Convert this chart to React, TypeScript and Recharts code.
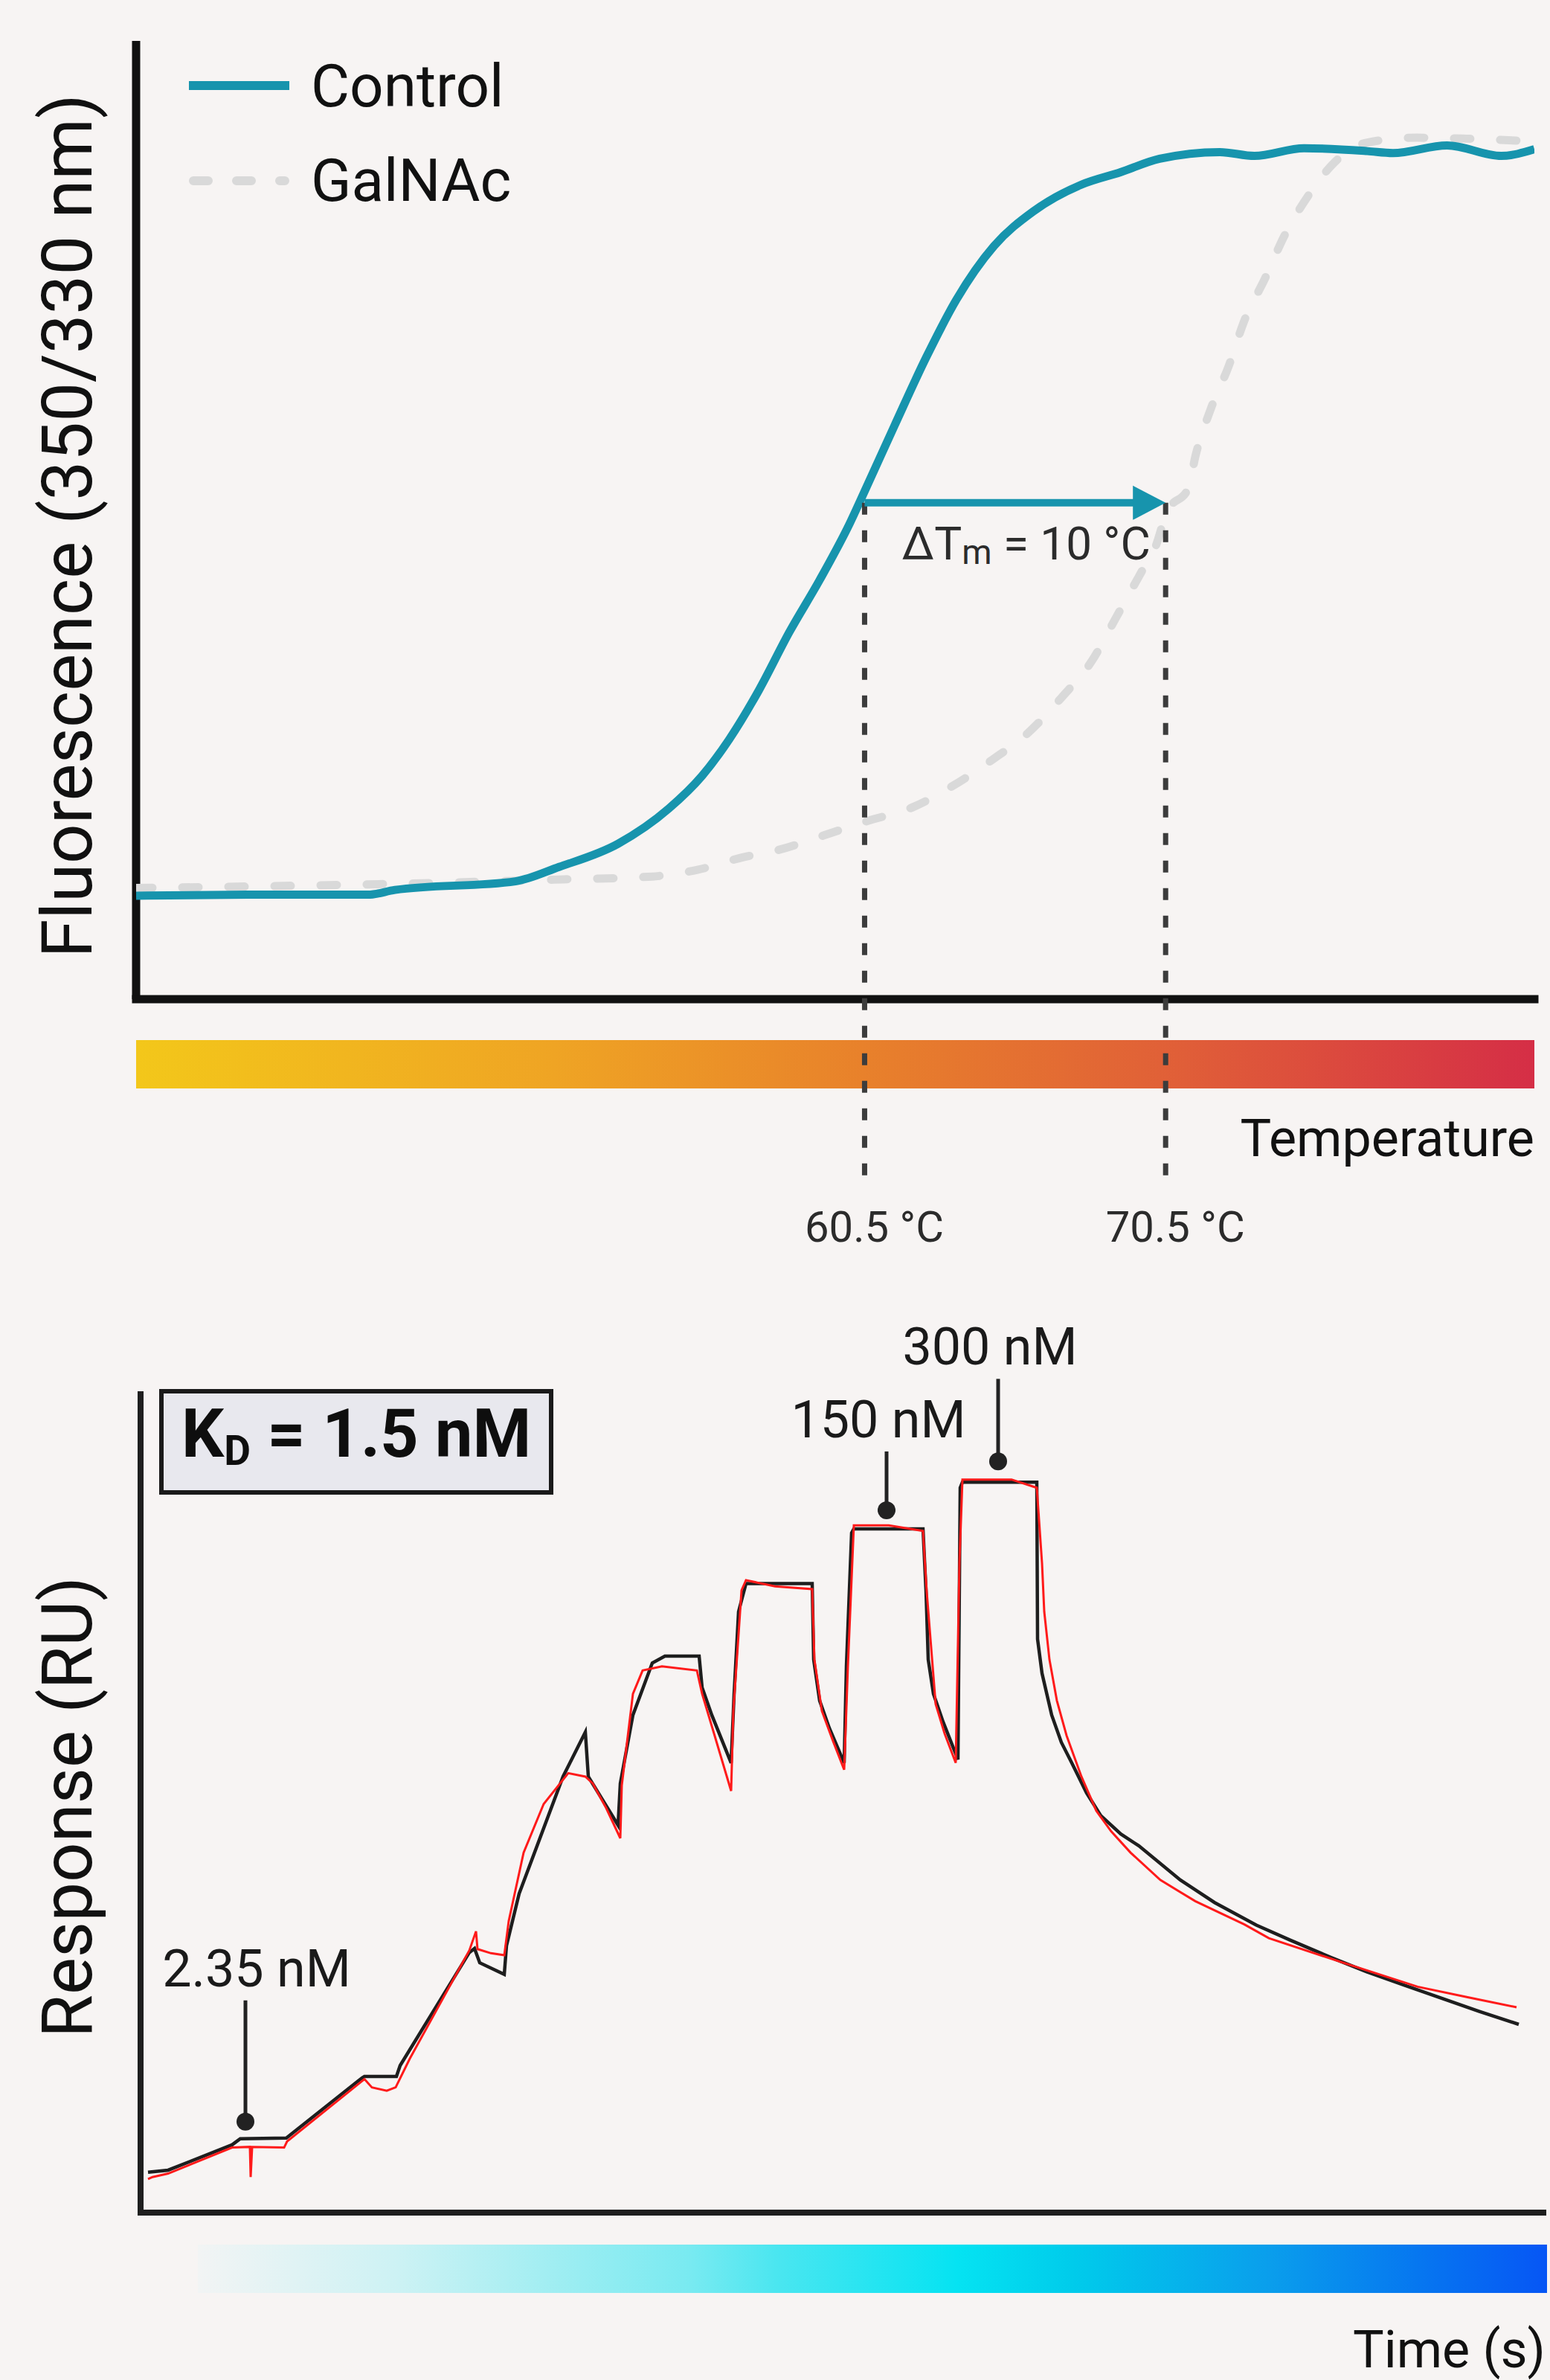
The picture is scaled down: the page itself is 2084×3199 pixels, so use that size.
import React from "react";
import {
  LineChart,
  Line,
  XAxis,
  YAxis,
  ReferenceLine,
  ReferenceDot,
  ReferenceArea,
} from "recharts";

const FONT = "Roboto, 'Noto Sans', sans-serif";
const BG = "#F7F4F3";
const TEAL = "#1794AD";
const GALNAC_GREY = "#D9D9D9";
const INK = "#111111";
const FIT_BLACK = "#1E1E1E";
const DATA_RED = "#FF1A1A";

// ---- thermal unfolding: temperature (°C) vs 350/330 ratio, normalised 0-100
const controlTemp = [36.3, 40.0, 44.0, 44.9, 48.9, 50.35, 52.3, 54.0, 55.1, 56.0, 57.0, 58.0, 59.0, 60.0, 60.5, 61.5, 62.55, 63.55, 64.8, 66.1, 67.7, 69.0, 70.3, 72.3, 73.45, 75.1, 77.2, 78.05, 79.85, 81.65, 82.75];
const controlRatio = [10.8, 10.9, 10.9, 11.4, 12.3, 13.8, 16.2, 19.9, 23.3, 27.1, 32.3, 38.3, 43.7, 49.6, 53.0, 59.9, 67.0, 73.0, 78.6, 82.2, 85.0, 86.3, 87.7, 88.4, 88.0, 88.8, 88.5, 88.3, 89.1, 88.0, 88.7];

const galnacTemp = [36.3, 45.8, 50.5, 53.45, 54.95, 56.45, 57.55, 59.15, 60.5, 62.15, 63.45, 64.75, 65.9, 67.05, 68.05, 68.85, 69.7, 70.15, 70.55, 71.25, 71.5, 72.0, 72.6, 73.1, 73.8, 74.45, 75.25, 76.1, 77.2, 78.85, 80.5, 82.75];
const galnacRatio = [11.6, 12.1, 12.5, 12.8, 13.5, 14.8, 15.5, 17.1, 18.5, 20.1, 22.3, 25.0, 27.7, 31.5, 35.3, 39.8, 44.6, 47.1, 50.9, 53.3, 56.8, 61.6, 66.1, 70.7, 75.2, 79.7, 83.9, 87.3, 89.4, 89.9, 89.8, 89.5];

const tmValues = [60.5, 70.5];
const tmLabels = ["60.5 °C", "70.5 °C"];
const TM_LEVEL = 51.8; // ratio where the shift arrow sits
const TEMP_DOMAIN = [36.3, 82.75];
const RATIO_DOMAIN = [0, 100];

// ---- SPR single-cycle kinetics: time (s) vs response (RU)
const fitTime = [10, 37, 123, 134, 196, 298, 301, 344, 349, 442, 449, 456, 489, 492, 509, 568, 598, 602, 642, 645, 662, 688, 705, 751, 755, 768, 794, 798, 804, 814, 903, 905, 913, 926, 946, 949, 956, 959, 1052, 1056, 1059, 1066, 1079, 1099, 1102, 1105, 1205, 1206, 1212, 1225, 1238, 1252, 1272, 1291, 1318, 1342, 1398, 1444, 1500, 1546, 1600, 1648, 1700, 1750, 1800, 1853];
const fitResp = [5.9, 6.2, 9.9, 10.8, 10.9, 19.7, 19.9, 19.9, 21.5, 38.0, 38.6, 36.5, 34.8, 39.0, 46.6, 63.7, 70.2, 63.7, 56.6, 62.7, 72.7, 80.3, 81.3, 81.3, 76.7, 72.7, 65.7, 75.8, 87.8, 91.9, 91.9, 80.8, 74.8, 70.8, 65.7, 79.8, 99.3, 99.9, 99.9, 90.9, 80.8, 75.8, 71.7, 66.2, 105.9, 106.7, 106.7, 83.8, 78.8, 72.7, 68.7, 65.7, 61.3, 58.0, 55.3, 53.6, 48.6, 45.3, 42.0, 39.8, 37.3, 35.2, 33.2, 31.3, 29.4, 27.5];

const dataTime = [10, 16, 37, 123, 147, 148, 150, 193, 197, 301, 311, 331, 343, 362, 442, 451, 453, 471, 489, 495, 515, 542, 575, 598, 608, 626, 645, 647, 662, 675, 701, 748, 755, 771, 794, 797, 808, 814, 853, 903, 906, 916, 931, 946, 951, 959, 1006, 1052, 1057, 1069, 1081, 1096, 1101, 1105, 1171, 1205, 1212, 1215, 1222, 1232, 1245, 1265, 1285, 1305, 1331, 1371, 1418, 1484, 1517, 1617, 1717, 1783, 1850];
const dataResp = [4.9, 5.2, 5.7, 9.5, 9.6, 5.2, 9.6, 9.5, 10.4, 19.5, 18.3, 17.8, 18.3, 22.5, 38.3, 41.1, 38.5, 37.9, 37.6, 42.6, 52.6, 59.7, 64.2, 63.7, 62.7, 59.1, 54.7, 62.4, 75.8, 79.2, 79.8, 79.2, 75.8, 70.0, 61.6, 73.3, 90.9, 92.4, 91.5, 91.1, 80.8, 73.3, 68.9, 64.7, 79.8, 100.4, 100.4, 99.6, 90.7, 74.3, 70.0, 65.7, 95.0, 107.1, 107.1, 105.9, 94.9, 87.8, 80.8, 74.8, 69.7, 63.7, 58.7, 55.7, 52.6, 48.6, 45.5, 42.1, 40.1, 36.5, 33.0, 31.5, 30.0];

const concLabels = ["2.35 nM", "150 nM", "300 nM"];
const concTime = [141, 1003, 1153];
const concResp = [10.9, 99.9, 106.7];
const TIME_DOMAIN = [0, 1886];
const RESP_DOMAIN = [0, 120];

// annotation pin layout (px): gap above plateau, stem length, label shift
const pinGap = [22, 25, 28];
const pinStem = [163, 79, 111];
const pinDx = [15, -11, -11];

const control = controlTemp.map((t, i) => ({ t, v: controlRatio[i] }));
const galnac = galnacTemp.map((t, i) => ({ t, v: galnacRatio[i] }));
const fit = fitTime.map((t, i) => ({ t, v: fitResp[i] }));
const measured = dataTime.map((t, i) => ({ t, v: dataResp[i] }));

function MeltChart() {
  return (
    <LineChart
      width={2084}
      height={1750}
      margin={{ top: 55, right: 21, bottom: 407, left: 183 }}
      style={{ display: "block" }}
    >
      <XAxis dataKey="t" type="number" domain={TEMP_DOMAIN} allowDataOverflow hide />
      <YAxis type="number" domain={RATIO_DOMAIN} allowDataOverflow hide />
      {/* axes drawn as heavy lines */}
      <ReferenceLine
        segment={[
          { x: TEMP_DOMAIN[0], y: RATIO_DOMAIN[0] },
          { x: TEMP_DOMAIN[0], y: RATIO_DOMAIN[1] },
        ]}
        stroke={INK}
        strokeWidth={11}
        ifOverflow="visible"
      />
      <ReferenceLine
        segment={[
          { x: TEMP_DOMAIN[0], y: RATIO_DOMAIN[0] },
          { x: TEMP_DOMAIN[1], y: RATIO_DOMAIN[0] },
        ]}
        stroke={INK}
        strokeWidth={11}
        strokeLinecap="square"
        ifOverflow="visible"
      />
      {/* temperature ramp bar under the axis */}
      <ReferenceArea
        x1={TEMP_DOMAIN[0]}
        x2={TEMP_DOMAIN[1]}
        y1={-4.27}
        y2={-9.32}
        fill="url(#tempGrad)"
        fillOpacity={1}
        stroke="none"
        ifOverflow="visible"
      />
      <Line
        data={galnac}
        dataKey="v"
        type="monotone"
        stroke={GALNAC_GREY}
        strokeWidth={11}
        strokeDasharray="22 40"
        strokeLinecap="round"
        dot={false}
        isAnimationActive={false}
      />
      <Line
        data={control}
        dataKey="v"
        type="monotone"
        stroke={TEAL}
        strokeWidth={11}
        strokeLinejoin="round"
        dot={false}
        isAnimationActive={false}
      />
      {tmValues.map((tm) => (
        <ReferenceLine
          key={"tm" + tm}
          segment={[
            { x: tm, y: TM_LEVEL },
            { x: tm, y: -19.6 },
          ]}
          stroke="#3C3C3C"
          strokeWidth={7}
          strokeDasharray="16 21"
          ifOverflow="visible"
        />
      ))}
      {tmValues.map((tm, i) => (
        <ReferenceDot
          key={"lab" + tm}
          x={tm}
          y={-19.6}
          ifOverflow="visible"
          shape={(p: any) => (
            <text
              x={p.cx + 13}
              y={p.cy + 74}
              textAnchor="middle"
              fontSize={58}
              fontFamily={FONT}
              fill="#2B2B2B"
            >
              {tmLabels[i]}
            </text>
          )}
        />
      ))}
      <ReferenceLine
        segment={[
          { x: tmValues[0], y: TM_LEVEL },
          { x: tmValues[1] - 0.9, y: TM_LEVEL },
        ]}
        stroke={TEAL}
        strokeWidth={10}
        ifOverflow="visible"
      />
      <ReferenceDot
        x={tmValues[1]}
        y={TM_LEVEL}
        ifOverflow="visible"
        shape={(p: any) => (
          <polygon
            points={`${p.cx},${p.cy} ${p.cx - 44},${p.cy - 23} ${p.cx - 44},${p.cy + 23}`}
            fill={TEAL}
          />
        )}
      />
      <ReferenceDot
        x={tmValues[0]}
        y={TM_LEVEL}
        ifOverflow="visible"
        shape={(p: any) => (
          <text x={p.cx + 50} y={p.cy + 76} fontSize={62} fontFamily={FONT} fill="#2B2B2B">
            ΔT
            <tspan fontSize={46} dy={6}>
              m
            </tspan>
            <tspan dy={-6}>{" = 10 °C"}</tspan>
          </text>
        )}
      />
    </LineChart>
  );
}

function KineticsChart() {
  return (
    <LineChart
      width={2084}
      height={1449}
      margin={{ top: 120, right: 9, bottom: 225, left: 189 }}
      style={{ display: "block" }}
    >
      <XAxis dataKey="t" type="number" domain={TIME_DOMAIN} allowDataOverflow hide />
      <YAxis type="number" domain={RESP_DOMAIN} allowDataOverflow hide />
      <ReferenceLine
        segment={[
          { x: TIME_DOMAIN[0], y: RESP_DOMAIN[0] },
          { x: TIME_DOMAIN[0], y: RESP_DOMAIN[1] },
        ]}
        stroke={FIT_BLACK}
        strokeWidth={8}
        ifOverflow="visible"
      />
      <ReferenceLine
        segment={[
          { x: TIME_DOMAIN[0], y: RESP_DOMAIN[0] },
          { x: TIME_DOMAIN[1], y: RESP_DOMAIN[0] },
        ]}
        stroke={FIT_BLACK}
        strokeWidth={8}
        strokeLinecap="square"
        ifOverflow="visible"
      />
      {/* time ramp bar */}
      <ReferenceArea
        x1={77}
        x2={1891}
        y1={-4.67}
        y2={-11.74}
        fill="url(#timeGrad)"
        fillOpacity={1}
        stroke="none"
        ifOverflow="visible"
      />
      <Line
        data={fit}
        dataKey="v"
        type="linear"
        stroke={FIT_BLACK}
        strokeWidth={4.5}
        dot={false}
        isAnimationActive={false}
      />
      <Line
        data={measured}
        dataKey="v"
        type="linear"
        stroke={DATA_RED}
        strokeWidth={3}
        dot={false}
        isAnimationActive={false}
      />
      {concLabels.map((lab, i) => (
        <ReferenceDot
          key={lab}
          x={concTime[i]}
          y={concResp[i]}
          ifOverflow="visible"
          shape={(p: any) => {
            const cy = p.cy - pinGap[i];
            return (
              <g>
                <line x1={p.cx} x2={p.cx} y1={cy} y2={cy - pinStem[i]} stroke="#222" strokeWidth={5} />
                <circle cx={p.cx} cy={cy} r={12} fill="#222" />
                <text
                  x={p.cx + pinDx[i]}
                  y={cy - pinStem[i] - 19}
                  textAnchor="middle"
                  fontSize={70}
                  fontFamily={FONT}
                  fill="#1A1A1A"
                >
                  {lab}
                </text>
              </g>
            );
          }}
        />
      ))}
    </LineChart>
  );
}

export default function App() {
  return (
    <div style={{ position: "relative", width: 2084, height: 3199, background: BG, overflow: "hidden" }}>
      <style>{"body{margin:0;}"}</style>
      <MeltChart />
      <KineticsChart />
      <svg
        width={2084}
        height={3199}
        style={{ position: "absolute", left: 0, top: 0, pointerEvents: "none" }}
        fontFamily={FONT}
      >
        <defs>
          <linearGradient id="tempGrad" x1="0" y1="0" x2="1" y2="0">
            <stop offset="0" stopColor="#F3C71A" />
            <stop offset="0.3" stopColor="#EFA424" />
            <stop offset="0.52" stopColor="#E8812B" />
            <stop offset="0.75" stopColor="#E05E38" />
            <stop offset="1" stopColor="#D52E46" />
          </linearGradient>
          <linearGradient id="timeGrad" x1="0" y1="0" x2="1" y2="0">
            <stop offset="0" stopColor="#F2F4F4" />
            <stop offset="0.147" stopColor="#CDF2F4" />
            <stop offset="0.256" stopColor="#A3EEF2" />
            <stop offset="0.366" stopColor="#78EAF1" />
            <stop offset="0.428" stopColor="#4BE6F0" />
            <stop offset="0.563" stopColor="#05E3F2" />
            <stop offset="0.647" stopColor="#00CCEB" />
            <stop offset="0.794" stopColor="#0A9EEC" />
            <stop offset="0.904" stopColor="#0677F0" />
            <stop offset="1" stopColor="#0656F5" />
          </linearGradient>
        </defs>

        {/* legend */}
        <line x1={254} x2={389} y1={115} y2={115} stroke={TEAL} strokeWidth={12} />
        <line
          x1={260}
          x2={383}
          y1={243}
          y2={243}
          stroke={GALNAC_GREY}
          strokeWidth={12}
          strokeDasharray="20 38"
          strokeLinecap="round"
        />
        <text x={418} y={143} fontSize={80} fill={INK}>
          Control
        </text>
        <text x={418} y={270} fontSize={80} fill={INK}>
          GalNAc
        </text>

        {/* axis titles */}
        <text
          x={123}
          y={707}
          fontSize={94}
          fill={INK}
          textAnchor="middle"
          transform="rotate(-90 123 707)"
        >
          Fluorescence (350/330 nm)
        </text>
        <text x={2063} y={1554} fontSize={70} fill={INK} textAnchor="end">
          Temperature
        </text>
        <text
          x={123}
          y={2429}
          fontSize={94}
          fill={INK}
          textAnchor="middle"
          transform="rotate(-90 123 2429)"
        >
          Response (RU)
        </text>
        <text x={2078} y={3182} fontSize={70} fill={INK} textAnchor="end">
          Time (s)
        </text>

        {/* affinity box */}
        <rect x={217} y={1870} width={524} height={136} fill="#E8E8EE" stroke="#1A1A1A" strokeWidth={6} />
        <text x={244} y={1958} fontSize={90} fontWeight={700} fill="#0E0E0E">
          K
          <tspan fontSize={55} dy={11}>
            D
          </tspan>
          <tspan dy={-11}>{" = 1.5 nM"}</tspan>
        </text>
      </svg>
    </div>
  );
}
